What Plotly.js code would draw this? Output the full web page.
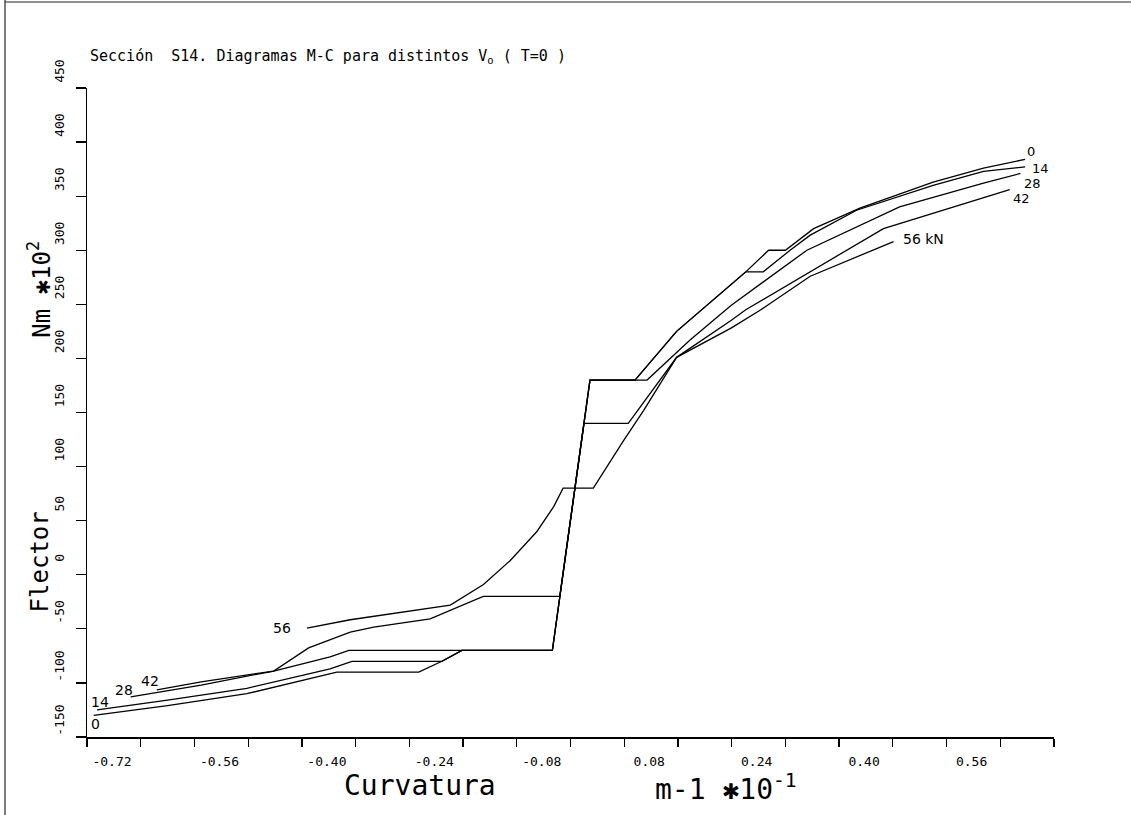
<!DOCTYPE html>
<html>
<head>
<meta charset="utf-8">
<script src="https://cdn.plot.ly/plotly-3.0.1.min.js"></script>
<style>html,body{margin:0;padding:0;background:#fff;}#chart{width:1131px;height:815px;}</style>
</head>
<body>
<div id="chart"></div>
<script>
// ---- Data (curvature m-1 *10^-1, bending moment Nm *10^2) ----
const seriesNames = ["0", "14", "28", "42", "56"];

const x0  = [-0.710, -0.600, -0.482, -0.358, -0.348, -0.226, -0.1915, -0.1617, -0.027, 0.029, 0.096, 0.158, 0.239, 0.261, 0.295, 0.320, 0.362, 0.431, 0.540, 0.615, 0.677];
const y0  = [-130, -121, -110, -92, -90, -90, -80, -70, -70, 180, 180, 225, 268, 280, 300, 300, 320, 339, 363, 376, 384];

const x14 = [-0.705, -0.600, -0.482, -0.358, -0.3255, -0.1915, -0.1617, -0.027, 0.029, 0.096, 0.158, 0.239, 0.261, 0.287, 0.327, 0.357, 0.426, 0.540, 0.615, 0.677];
const y14 = [-125, -116, -105, -87, -80, -80, -70, -70, 180, 180, 225, 268, 280, 280, 300, 314, 337, 360, 373, 377];

const x28 = [-0.655, -0.550, -0.442, -0.358, -0.330, -0.027, 0.029, 0.114, 0.178, 0.239, 0.352, 0.490, 0.615, 0.670];
const y28 = [-113, -102, -89, -76, -70, -70, 180, 180, 217, 249, 300, 340, 362, 371];

const x42 = [-0.616, -0.550, -0.442, -0.390, -0.328, -0.293, -0.209, -0.179, -0.130, -0.016, 0.020, 0.086, 0.158, 0.239, 0.261, 0.466, 0.654];
const y42 = [-106.5, -99, -89, -67.6, -53, -48.5, -40.7, -33, -20, -20, 140, 140, 201, 235, 245, 320, 356];

const x56 = [-0.3925, -0.328, -0.179, -0.1296, -0.090, -0.050, -0.025, -0.011, 0.034, 0.079, 0.109, 0.158, 0.239, 0.2835, 0.357, 0.481];
const y56 = [-49.4, -41.6, -28, -9, 13, 40, 63, 80, 80, 124, 152, 201, 228, 245, 276, 308];

const xTickVals = [-0.72,-0.64,-0.56,-0.48,-0.40,-0.32,-0.24,-0.16,-0.08,0.00,0.08,0.16,0.24,0.32,0.40,0.48,0.56,0.64,0.72];
const xTickText = ["-0.72","","-0.56","","-0.40","","-0.24","","-0.08","","0.08","","0.24","","0.40","","0.56","",""];
const yTickVals = [-150, -100, -50, 0, 50, 100, 150, 200, 250, 300, 350, 400, 450];
const yTickText = ["-150", "-100", "-50", "0", "50", "100", "150", "200", "250", "300", "350", "400", "450"];

// ---- Chart ----
const xs = [x0, x14, x28, x42, x56];
const ys = [y0, y14, y28, y42, y56];
const traces = seriesNames.map((n, i) => ({
  x: xs[i], y: ys[i], name: n, type: 'scatter', mode: 'lines',
  line: {color: '#000', width: 1.3}, hoverinfo: 'skip'
}));

const mono = "DejaVu Sans Mono";
const sans = "DejaVu Sans";
function lab(text, x, y, xa, size) {
  return {text: text, x: x, y: y, xref: 'x', yref: 'y', showarrow: false,
          xanchor: xa || 'center', yanchor: 'middle', borderpad: 0,
          font: {family: sans, size: size || 14, color: '#000'}};
}

const annotations = [
  {text: "Sección  S14. Diagramas M-C para distintos V<sub>o</sub> ( T=0 )", xref: 'paper', yref: 'paper',
   x: 0.001, y: 1.049, xanchor: 'left', yanchor: 'middle', showarrow: false,
   font: {family: mono, size: 15, color: '#000'}},
  {text: "Curvatura", xref: 'paper', yref: 'paper', x: 0.344, y: -0.046,
   xanchor: 'center', yanchor: 'top', showarrow: false, font: {family: mono, size: 28, color: '#000'}},
  {text: "m-1 ✱10<sup>-1</sup>", xref: 'paper', yref: 'paper', x: 0.661, y: -0.046,
   xanchor: 'center', yanchor: 'top', showarrow: false, font: {family: mono, size: 28, color: '#000'}},
  {text: "Flector", xref: 'paper', yref: 'paper', x: -0.049, y: 0.27, textangle: -90,
   xanchor: 'center', yanchor: 'middle', showarrow: false, font: {family: mono, size: 24, color: '#000'}},
  {text: "Nm ✱10<sup>2</sup>", xref: 'paper', yref: 'paper', x: -0.049, y: 0.69, textangle: -90,
   xanchor: 'center', yanchor: 'middle', showarrow: false, font: {family: mono, size: 24, color: '#000'}},
  // curve labels, right side
  lab("0", 0.686, 391, 'center', 13),
  lab("14", 0.700, 376, 'center', 13),
  lab("28", 0.688, 362, 'center', 13),
  lab("42", 0.672, 348, 'center', 13),
  lab("56 kN", 0.493, 310, 'left', 14),
  // curve labels, left side
  lab("0", -0.7076, -138, 'center'),
  lab("14", -0.700, -118, 'center'),
  lab("28", -0.6655, -107, 'center'),
  lab("42", -0.6258, -98, 'center'),
  lab("56", -0.415, -49.4, 'right')
];

const shapes = [
  {type: 'line', xref: 'paper', yref: 'paper', x0: -0.0848, x1: -0.0848, y0: -0.13, y1: 1.14,
   line: {color: '#222', width: 1.2}},
  {type: 'line', xref: 'paper', yref: 'paper', x0: -0.0848, x1: 1.08, y0: 1.1325, y1: 1.1325,
   line: {color: '#222', width: 1.2}}
];

const layout = {
  width: 1131, height: 815,
  margin: {l: 87, r: 77, t: 88, b: 78, pad: 0},
  paper_bgcolor: '#fff', plot_bgcolor: '#fff',
  showlegend: false,
  font: {family: mono, color: '#000'},
  xaxis: {
    range: [-0.72, 0.72], tickmode: 'array', tickvals: xTickVals, ticktext: xTickText,
    showline: true, linecolor: '#000', linewidth: 1.5, mirror: false,
    ticks: 'outside', ticklen: 8, tickwidth: 1.3, tickcolor: '#000',
    showgrid: false, zeroline: false, tickangle: 0,
    ticklabelshift: 25, ticklabelstandoff: 4,
    tickfont: {family: mono, size: 13, color: '#000'}
  },
  yaxis: {
    range: [-150, 450], tickmode: 'array', tickvals: yTickVals, ticktext: yTickText,
    showline: true, linecolor: '#000', linewidth: 1.5, mirror: false,
    ticks: 'outside', ticklen: 10, tickwidth: 1.3, tickcolor: '#000',
    showgrid: false, zeroline: false, tickangle: -90,
    ticklabelshift: -15, ticklabelstandoff: 6,
    tickfont: {family: mono, size: 13, color: '#000'}
  },
  annotations: annotations,
  shapes: shapes
};

Plotly.newPlot('chart', traces, layout, {displayModeBar: false, staticPlot: true});
</script>
</body>
</html>
